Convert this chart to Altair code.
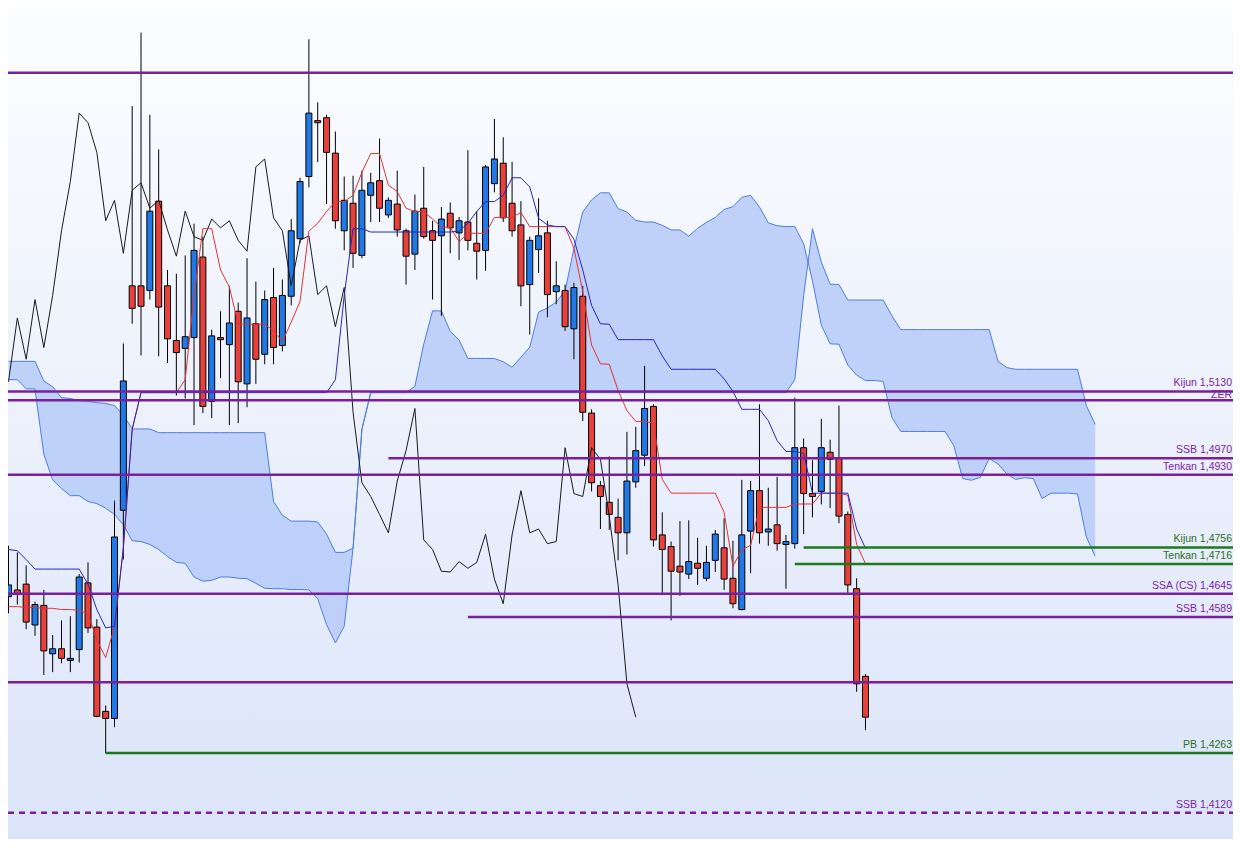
import altair as alt
import pandas as pd

# ---- canvas / scale constants (styling) ----
W, H = 1225, 831
X_MIN, X_MAX = -0.056, 138.6
Y_MIN, Y_MAX = 1.4057, 1.6049

# ---- data ----
opens = [
    1.4638, 1.4654, 1.4668, 1.4570, 1.4617, 1.4501, 1.4513, 1.4485, 1.4511, 1.4671,
    1.4565, 1.4363, 1.4346, 1.4845, 1.5383, 1.5383, 1.5372, 1.5586, 1.5383, 1.5252,
    1.5233, 1.5259, 1.5452, 1.5106, 1.5259, 1.5242, 1.5322, 1.5148, 1.5292, 1.5219,
    1.5355, 1.5240, 1.5358, 1.5496, 1.5645, 1.5779, 1.5786, 1.5701, 1.5515, 1.5581,
    1.5456, 1.5600, 1.5635, 1.5553, 1.5579, 1.5515, 1.5459, 1.5569, 1.5515, 1.5503,
    1.5557, 1.5510, 1.5536, 1.5485, 1.5468, 1.5628, 1.5677, 1.5581, 1.5529, 1.5386,
    1.5470, 1.5510, 1.5369, 1.5372, 1.5280, 1.5358, 1.5078, 1.4904, 1.4864, 1.4828,
    1.4791, 1.4913, 1.4977, 1.5094, 1.4786, 1.4758, 1.4711, 1.4692, 1.4718, 1.4682,
    1.4725, 1.4755, 1.4682, 1.4607, 1.4795, 1.4892, 1.4793, 1.4810, 1.4763, 1.4765,
    1.4995, 1.4885, 1.4890, 1.4984, 1.4969, 1.4835, 1.4657, 1.4447]
highs = [
    1.4760, 1.4744, 1.4713, 1.4626, 1.4654, 1.4546, 1.4581, 1.4591, 1.4692, 1.4720,
    1.4584, 1.4377, 1.4868, 1.5245, 1.5814, 1.5990, 1.5793, 1.5710, 1.5421, 1.5412,
    1.5456, 1.5532, 1.5501, 1.5278, 1.5322, 1.5383, 1.5343, 1.5449, 1.5393, 1.5372,
    1.5426, 1.5398, 1.5543, 1.5642, 1.5974, 1.5823, 1.5793, 1.5753, 1.5645, 1.5647,
    1.5659, 1.5654, 1.5736, 1.5595, 1.5659, 1.5520, 1.5602, 1.5668, 1.5539, 1.5572,
    1.5583, 1.5548, 1.5708, 1.5562, 1.5673, 1.5783, 1.5739, 1.5680, 1.5586, 1.5501,
    1.5593, 1.5539, 1.5442, 1.5386, 1.5390, 1.5383, 1.5087, 1.4915, 1.4974, 1.4873,
    1.5033, 1.5045, 1.5191, 1.5099, 1.4840, 1.4770, 1.4819, 1.4821, 1.4779, 1.4760,
    1.4798, 1.4826, 1.4772, 1.4918, 1.4915, 1.5099, 1.4899, 1.4925, 1.4786, 1.5115,
    1.5017, 1.4965, 1.5064, 1.5014, 1.5096, 1.4842, 1.4682, 1.4452]
lows = [
    1.4598, 1.4619, 1.4560, 1.4544, 1.4450, 1.4457, 1.4478, 1.4457, 1.4480, 1.4551,
    1.4349, 1.4263, 1.4325, 1.4727, 1.5292, 1.5216, 1.5350, 1.5214, 1.5198, 1.5120,
    1.5113, 1.5049, 1.5078, 1.5066, 1.5162, 1.5049, 1.5054, 1.5092, 1.5148, 1.5195,
    1.5195, 1.5226, 1.5336, 1.5485, 1.5619, 1.5680, 1.5579, 1.5520, 1.5468, 1.5426,
    1.5449, 1.5536, 1.5536, 1.5546, 1.5501, 1.5386, 1.5421, 1.5496, 1.5350, 1.5311,
    1.5461, 1.5445, 1.5468, 1.5398, 1.5419, 1.5607, 1.5536, 1.5501, 1.5334, 1.5266,
    1.5414, 1.5308, 1.5339, 1.5275, 1.5207, 1.5059, 1.4890, 1.4800, 1.4798, 1.4725,
    1.4739, 1.4899, 1.4951, 1.4758, 1.4647, 1.4581, 1.4640, 1.4680, 1.4666, 1.4675,
    1.4697, 1.4654, 1.4610, 1.4605, 1.4694, 1.4765, 1.4760, 1.4748, 1.4657, 1.4753,
    1.4788, 1.4828, 1.4859, 1.4850, 1.4814, 1.4647, 1.4410, 1.4318]
closes = [
    1.4666, 1.4643, 1.4577, 1.4619, 1.4508, 1.4513, 1.4490, 1.4490, 1.4685, 1.4563,
    1.4351, 1.4346, 1.4781, 1.5155, 1.5329, 1.5334, 1.5562, 1.5332, 1.5256, 1.5223,
    1.5261, 1.5468, 1.5094, 1.5263, 1.5254, 1.5294, 1.5153, 1.5306, 1.5207, 1.5350,
    1.5235, 1.5360, 1.5515, 1.5633, 1.5797, 1.5774, 1.5703, 1.5539, 1.5588, 1.5461,
    1.5612, 1.5630, 1.5569, 1.5588, 1.5517, 1.5454, 1.5562, 1.5501, 1.5492, 1.5543,
    1.5522, 1.5539, 1.5492, 1.5466, 1.5668, 1.5687, 1.5546, 1.5515, 1.5383, 1.5492,
    1.5503, 1.5362, 1.5383, 1.5285, 1.5379, 1.5080, 1.4911, 1.4878, 1.4835, 1.4791,
    1.4915, 1.4988, 1.5089, 1.4774, 1.4751, 1.4699, 1.4697, 1.4722, 1.4706, 1.4720,
    1.4788, 1.4680, 1.4621, 1.4786, 1.4892, 1.4791, 1.4800, 1.4765, 1.4770, 1.4995,
    1.4885, 1.4878, 1.4995, 1.4967, 1.4831, 1.4666, 1.4429, 1.4349]

tenkan = [
    1.4614, 1.4614, 1.4612, 1.4612, 1.4610, 1.4610, 1.4607, 1.4607, 1.4605, 1.4597,
    1.4534, 1.4492, 1.4566, 1.4754, 1.5039, 1.5127, 1.5127, 1.5127, 1.5127, 1.5127,
    1.5158, 1.5359, 1.5520, 1.5520, 1.5421, 1.5380, 1.5291, 1.5291, 1.5291, 1.5291,
    1.5275, 1.5249, 1.5296, 1.5346, 1.5514, 1.5533, 1.5561, 1.5585, 1.5585, 1.5600,
    1.5655, 1.5700, 1.5700, 1.5624, 1.5609, 1.5569, 1.5561, 1.5561, 1.5543, 1.5523,
    1.5523, 1.5489, 1.5509, 1.5509, 1.5509, 1.5547, 1.5547, 1.5547, 1.5559, 1.5525,
    1.5525, 1.5525, 1.5525, 1.5525, 1.5473, 1.5369, 1.5241, 1.5196, 1.5195, 1.5132,
    1.5084, 1.5058, 1.5058, 1.5054, 1.4919, 1.4886, 1.4886, 1.4886, 1.4886, 1.4886,
    1.4886, 1.4840, 1.4711, 1.4750, 1.4761, 1.4852, 1.4852, 1.4852, 1.4852, 1.4860,
    1.4860, 1.4860, 1.4886, 1.4886, 1.4886, 1.4881, 1.4763, 1.4717]
kijun = [
    1.4751, 1.4748, 1.4727, 1.4704, 1.4704, 1.4704, 1.4704, 1.4704, 1.4704, 1.4668,
    1.4607, 1.4563, 1.4567, 1.4754, 1.5039, 1.5127, 1.5127, 1.5127, 1.5127, 1.5127,
    1.5127, 1.5127, 1.5127, 1.5127, 1.5127, 1.5127, 1.5127, 1.5127, 1.5127, 1.5127,
    1.5127, 1.5127, 1.5127, 1.5127, 1.5127, 1.5127, 1.5127, 1.5158, 1.5359, 1.5520,
    1.5520, 1.5512, 1.5512, 1.5512, 1.5512, 1.5512, 1.5512, 1.5512, 1.5512, 1.5512,
    1.5512, 1.5514, 1.5533, 1.5561, 1.5585, 1.5585, 1.5600, 1.5642, 1.5642, 1.5620,
    1.5545, 1.5529, 1.5525, 1.5525, 1.5495, 1.5421, 1.5336, 1.5292, 1.5291, 1.5254,
    1.5254, 1.5254, 1.5254, 1.5254, 1.5215, 1.5183, 1.5183, 1.5183, 1.5183, 1.5183,
    1.5183, 1.5160, 1.5130, 1.5087, 1.5087, 1.5087, 1.5060, 1.5012, 1.4986, 1.4986,
    1.4982, 1.4886, 1.4886, 1.4886, 1.4886, 1.4886, 1.4800, 1.4754]
senkou_a = [
    1.5158, 1.5158, 1.5136, 1.5136, 1.4979, 1.4918, 1.4897, 1.4880, 1.4880, 1.4866,
    1.4861, 1.4850, 1.4835, 1.4810, 1.4772, 1.4770, 1.4763, 1.4751, 1.4734, 1.4720,
    1.4718, 1.4685, 1.4675, 1.4677, 1.4685, 1.4685, 1.4682, 1.4681, 1.4670, 1.4658,
    1.4657, 1.4657, 1.4655, 1.4655, 1.4654, 1.4633, 1.4571, 1.4527, 1.4567, 1.4754,
    1.5039, 1.5127, 1.5127, 1.5127, 1.5127, 1.5127, 1.5142, 1.5243, 1.5323, 1.5323,
    1.5274, 1.5253, 1.5209, 1.5209, 1.5209, 1.5209, 1.5201, 1.5188, 1.5212, 1.5236,
    1.5320, 1.5330, 1.5344, 1.5371, 1.5472, 1.5560, 1.5589, 1.5606, 1.5606, 1.5568,
    1.5560, 1.5540, 1.5536, 1.5536, 1.5528, 1.5517, 1.5517, 1.5502, 1.5521, 1.5535,
    1.5547, 1.5566, 1.5573, 1.5595, 1.5600, 1.5572, 1.5534, 1.5527, 1.5525, 1.5525,
    1.5484, 1.5395, 1.5289, 1.5244, 1.5243, 1.5193, 1.5169, 1.5156, 1.5156, 1.5154,
    1.5067, 1.5034, 1.5034, 1.5034, 1.5034, 1.5034, 1.5034, 1.5000, 1.4921, 1.4917,
    1.4924, 1.4969, 1.4956, 1.4932, 1.4919, 1.4923, 1.4921, 1.4873, 1.4886, 1.4886,
    1.4886, 1.4884, 1.4781, 1.4735]
senkou_b = [
    1.5202, 1.5202, 1.5202, 1.5202, 1.5155, 1.5141, 1.5115, 1.5113, 1.5108, 1.5106,
    1.5103, 1.5101, 1.5096, 1.5073, 1.5040, 1.5040, 1.5040, 1.5031, 1.5031, 1.5031,
    1.5031, 1.5031, 1.5031, 1.5031, 1.5031, 1.5031, 1.5031, 1.5031, 1.5031, 1.5031,
    1.4866, 1.4833, 1.4819, 1.4819, 1.4819, 1.4817, 1.4788, 1.4744, 1.4744, 1.4754,
    1.5039, 1.5127, 1.5127, 1.5127, 1.5127, 1.5127, 1.5127, 1.5127, 1.5127, 1.5127,
    1.5127, 1.5127, 1.5127, 1.5127, 1.5127, 1.5127, 1.5127, 1.5127, 1.5127, 1.5127,
    1.5127, 1.5127, 1.5127, 1.5127, 1.5127, 1.5127, 1.5127, 1.5127, 1.5127, 1.5127,
    1.5127, 1.5127, 1.5127, 1.5127, 1.5127, 1.5127, 1.5127, 1.5127, 1.5127, 1.5127,
    1.5127, 1.5127, 1.5127, 1.5127, 1.5127, 1.5127, 1.5127, 1.5127, 1.5127, 1.5158,
    1.5359, 1.5520, 1.5440, 1.5387, 1.5386, 1.5349, 1.5349, 1.5349, 1.5349, 1.5349,
    1.5311, 1.5278, 1.5278, 1.5278, 1.5278, 1.5278, 1.5278, 1.5278, 1.5278, 1.5278,
    1.5278, 1.5278, 1.5202, 1.5187, 1.5183, 1.5183, 1.5183, 1.5183, 1.5183, 1.5183,
    1.5183, 1.5183, 1.5096, 1.5051]
chikou = [
    1.5153, 1.5306, 1.5207, 1.5350, 1.5235, 1.5360, 1.5515, 1.5633, 1.5797, 1.5774,
    1.5703, 1.5539, 1.5588, 1.5461, 1.5612, 1.5630, 1.5569, 1.5588, 1.5517, 1.5454,
    1.5562, 1.5501, 1.5492, 1.5543, 1.5522, 1.5539, 1.5492, 1.5466, 1.5668, 1.5687,
    1.5546, 1.5515, 1.5383, 1.5492, 1.5503, 1.5362, 1.5383, 1.5285, 1.5379, 1.5080,
    1.4911, 1.4878, 1.4835, 1.4791, 1.4915, 1.4988, 1.5089, 1.4774, 1.4751, 1.4699,
    1.4697, 1.4722, 1.4706, 1.4720, 1.4788, 1.4680, 1.4621, 1.4786, 1.4892, 1.4791,
    1.4800, 1.4765, 1.4770, 1.4995, 1.4885, 1.4878, 1.4995, 1.4967, 1.4831, 1.4666,
    1.4429, 1.4349]

level_prices = [1.5894, 1.5130, 1.5109, 1.4970, 1.4930, 1.4756, 1.4716,
                1.4645, 1.4589, 1.4433, 1.4263, 1.4120]
level_labels = ["", "Kijun 1,5130", "ZER", "SSB 1,4970", "Tenkan 1,4930",
                "Kijun 1,4756", "Tenkan 1,4716", "SSA (CS) 1,4645", "SSB 1,4589",
                "", "PB 1,4263", "SSB 1,4120"]
level_start = [None, None, None, 43, None, 90, 89, None, 52, None, 11, None]
level_kind = ["purple", "purple", "purple", "purple", "purple", "green", "green",
              "purple", "purple", "purple", "green", "purple"]
level_dashed = [False] * 11 + [True]

# ---- styles ----
KIND_COLOR = {"purple": "#7a1fa2", "green": "#1c7a1c"}
LABEL_COLOR = {"purple": "#7b24a8", "green": "#2d6e1e"}
DIR_COLOR = {"up": "#2079e6", "down": "#e8413b"}

xs = alt.Scale(domain=[X_MIN, X_MAX], nice=False, zero=False, padding=0)
ys = alt.Scale(domain=[Y_MIN, Y_MAX], nice=False, zero=False, padding=0)

candles = pd.DataFrame({
    "i": list(range(len(opens))),
    "o": opens, "h": highs, "l": lows, "c": closes,
})
candles["col"] = [DIR_COLOR["up"] if c >= o else DIR_COLOR["down"]
                  for o, c in zip(opens, closes)]

lines_df = pd.DataFrame({"i": list(range(len(tenkan))), "tenkan": tenkan, "kijun": kijun})
cloud_df = pd.DataFrame({"i": list(range(len(senkou_a))), "sa": senkou_a, "sb": senkou_b})
chikou_df = pd.DataFrame({"i": list(range(len(chikou))), "v": chikou})

levels = pd.DataFrame({
    "p": level_prices,
    "label": level_labels,
    "start": [X_MIN if s is None else s for s in level_start],
    "end": [X_MAX] * len(level_prices),
    "col": [KIND_COLOR[k] for k in level_kind],
    "tcol": [LABEL_COLOR[k] for k in level_kind],
    "dashed": level_dashed,
})


def X(f):
    return alt.X(f, type="quantitative", scale=xs, axis=None)


def Y(f):
    return alt.Y(f, type="quantitative", scale=ys, axis=None)


bg = alt.Chart(pd.DataFrame({"a": [0]})).mark_rect(
    color={"gradient": "linear", "x1": 0, "y1": 0, "x2": 0, "y2": 1,
           "stops": [{"offset": 0, "color": "#fcfdff"},
                     {"offset": 1, "color": "#dbe4f9"}]}
).encode(x=alt.value(0), x2=alt.value(W), y=alt.value(0), y2=alt.value(H))

cloud = alt.Chart(cloud_df).mark_area(color="#bccff9", opacity=0.95, clip=True).encode(
    x=X("i"), y=Y("sa"), y2="sb")
edge_a = alt.Chart(cloud_df).mark_line(color="#4d7ddf", strokeWidth=1, clip=True).encode(
    x=X("i"), y=Y("sa"))
edge_b = alt.Chart(cloud_df).mark_line(color="#4d7ddf", strokeWidth=1, clip=True).encode(
    x=X("i"), y=Y("sb"))

wicks = alt.Chart(candles).mark_rule(color="black", strokeWidth=1, clip=True).encode(
    x=X("i"), y=Y("l"), y2="h")
bodies = alt.Chart(candles).mark_bar(size=6, stroke="black", strokeWidth=1, clip=True).encode(
    x=X("i"), y=Y("o"), y2="c", color=alt.Color("col:N", scale=None))

chik = alt.Chart(chikou_df).mark_line(color="#1a1a1a", strokeWidth=1, clip=True).encode(
    x=X("i"), y=Y("v"))
tk = alt.Chart(lines_df).mark_line(color="#e53232", strokeWidth=1, clip=True).encode(
    x=X("i"), y=Y("tenkan"))
kj = alt.Chart(lines_df).mark_line(color="#2626c4", strokeWidth=1, clip=True).encode(
    x=X("i"), y=Y("kijun"))

solid = alt.Chart(levels).transform_filter("!datum.dashed").mark_rule(
    strokeWidth=2.5, clip=True).encode(
    x=X("start"), x2="end", y=Y("p"), color=alt.Color("col:N", scale=None))
dashed = alt.Chart(levels).transform_filter("datum.dashed").mark_rule(
    strokeWidth=2.5, strokeDash=[6, 5], clip=True).encode(
    x=X("start"), x2="end", y=Y("p"), color=alt.Color("col:N", scale=None))

labels = alt.Chart(levels).transform_filter(
    "datum.label != '' && datum.label != 'ZER'").mark_text(
    align="right", baseline="alphabetic", dy=-5, fontSize=10.5,
    font="Liberation Sans").encode(
    x=alt.value(W - 1), y=Y("p"), text="label:N",
    color=alt.Color("tcol:N", scale=None))
zer_label = alt.Chart(levels).transform_filter("datum.label == 'ZER'").mark_text(
    align="right", baseline="alphabetic", dy=-2, fontSize=10.5,
    font="Liberation Sans").encode(
    x=alt.value(W - 1), y=Y("p"), text="label:N",
    color=alt.Color("tcol:N", scale=None))

chart = alt.layer(
    bg, cloud, edge_a, edge_b, wicks, bodies, chik, tk, kj, solid, dashed,
    labels, zer_label
).properties(width=W, height=H, padding=0, background="#fcfdff").configure_view(
    strokeWidth=0)

chart.save("out.html", embed_options={"renderer": "svg", "actions": False})
